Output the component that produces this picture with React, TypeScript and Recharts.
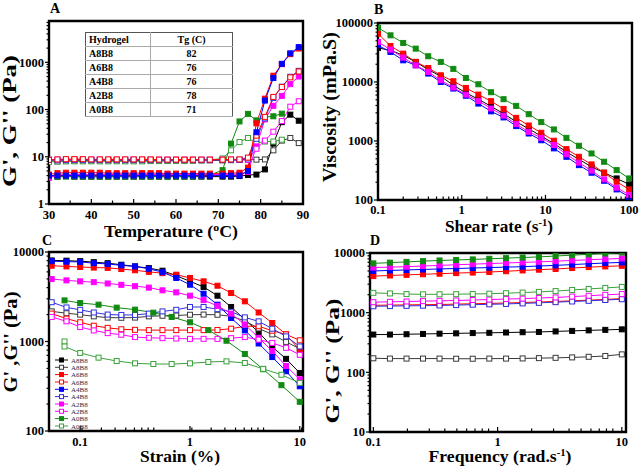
import React from 'react';
import { LineChart, Line, XAxis, YAxis, ReferenceArea } from 'recharts';

const FONT = '"Liberation Serif", "Times New Roman", serif';

// ---- A: temperature sweep (G' filled, G'' open)
const tempC = [30, 32, 34, 36, 38, 40, 42, 44, 46, 48, 50, 52, 54, 56, 58, 60, 62, 64, 66, 68, 71, 73, 75, 77, 79, 81, 83, 85, 87, 89];
const tA8B8G1 = [3.8, 3.8, 3.9, 3.8, 3.8, 3.8, 3.8, 3.8, 3.8, 3.8, 3.8, 3.8, 3.8, 3.8, 3.8, 3.8, 3.8, 3.8, 3.8, 3.8, 3.8, 3.8, 3.9, 4.1, 4.2, 5.4, 19, 54, 78, 58];
const tA8B8G2 = [8.3, 8.0, 8.1, 8.2, 8.3, 8.3, 8.3, 8.3, 8.3, 8.3, 8.3, 8.3, 8.3, 8.3, 8.3, 8.3, 8.3, 8.3, 8.4, 8.4, 8.4, 8.5, 8.6, 8.7, 8.7, 8.8, 13.7, 22, 25, 19.5];
const tA6B8G1 = [4.2, 4.5, 4.6, 4.6, 4.6, 4.6, 4.6, 4.5, 4.5, 4.5, 4.5, 4.5, 4.5, 4.5, 4.4, 4.4, 4.4, 4.4, 4.4, 4.4, 4.4, 4.5, 4.6, 5.9, 51, 170, 520, 915, 1490, 1960];
const tA6B8G2 = [8.6, 8.8, 8.9, 8.9, 8.9, 8.8, 8.8, 8.8, 8.8, 8.8, 8.8, 8.8, 8.8, 8.7, 8.7, 8.7, 8.7, 8.7, 8.7, 8.7, 8.7, 8.8, 8.8, 9.6, 28, 70, 185, 300, 480, 640];
const tA4B8G1 = [4.0, 4.0, 4.0, 4.0, 4.0, 4.0, 4.0, 4.0, 4.0, 4.0, 4.0, 4.0, 4.0, 4.0, 4.0, 4.0, 4.0, 4.0, 4.0, 4.0, 4.0, 4.0, 4.0, 5.0, 33, 155, 465, 930, 1550, 2100];
const tA4B8G2 = [8.6, 8.4, 8.5, 8.5, 8.5, 8.5, 8.5, 8.5, 8.5, 8.5, 8.5, 8.5, 8.5, 8.5, 8.5, 8.5, 8.5, 8.5, 8.5, 8.5, 8.5, 8.5, 8.6, 9.2, 24, 65, 175, 305, 495, 660];
const tA2B8G1 = [3.6, 4.1, 4.2, 4.2, 4.2, 4.2, 4.2, 4.2, 4.2, 4.2, 4.2, 4.2, 4.2, 4.2, 4.2, 4.2, 4.2, 4.2, 4.2, 4.2, 4.2, 4.2, 4.3, 4.8, 16.6, 62, 120, 195, 345, 500];
const tA2B8G2 = [8.7, 8.7, 8.7, 8.7, 8.7, 8.7, 8.7, 8.7, 8.7, 8.7, 8.7, 8.7, 8.7, 8.7, 8.7, 8.7, 8.7, 8.7, 8.7, 8.7, 8.7, 8.7, 8.6, 8.6, 14.8, 22, 34, 57, 115, 150];
const tA0B8G1 = [3.9, 3.8, 3.8, 3.8, 3.8, 3.8, 3.8, 3.8, 3.8, 3.8, 3.8, 3.8, 3.8, 3.8, 3.8, 3.8, 3.8, 3.8, 3.9, 4.1, 5.2, 19, 56, 81, 59, 69, 72, 82, null, null];
const tA0B8G2 = [7.8, 7.9, 8.0, 8.0, 8.0, 8.0, 8.0, 8.0, 8.0, 8.0, 8.0, 8.0, 8.1, 8.1, 8.1, 8.2, 8.2, 8.3, 8.4, 8.6, 9.2, 13.7, 20.5, 25, 19.5, 21, 21, 23, null, null];

const hydrogels = ['A8B8', 'A6B8', 'A4B8', 'A2B8', 'A0B8'];
const tgValues = [82, 76, 76, 78, 71];

// ---- B: viscosity vs shear rate
const shearRate = [0.1, 0.141, 0.2, 0.282, 0.398, 0.562, 0.794, 1.12, 1.58, 2.24, 3.16, 4.47, 6.31, 8.91, 12.6, 17.8, 25.1, 35.5, 50.1, 70.8, 100];
const vA8B8 = [37800, 34500, 28300, 21900, 16200, 12500, 8800, 6550, 5100, 3870, 2900, 2120, 1610, 1210, 905, 655, 487, 366, 290, 232, 184];
const vA6B8 = [66000, 40800, 30300, 21900, 17300, 13000, 10300, 7940, 6120, 4730, 3500, 2470, 1830, 1380, 1010, 728, 540, 401, 290, 204, 151];
const vA4B8 = [41900, 32300, 23300, 19200, 13900, 10000, 7740, 5850, 4310, 3180, 2510, 1790, 1340, 1030, 750, 540, 390, 290, 212, 151, 113];
const vA2B8 = [47600, 35400, 25900, 19200, 14800, 10700, 8060, 6120, 4780, 3560, 2700, 1930, 1430, 1130, 855, 595, 430, 315, 224, 162, 122];
const vA0B8 = [83400, 61800, 45900, 36800, 27300, 21900, 16700, 11700, 9150, 6710, 5110, 3940, 2850, 2090, 1570, 1130, 830, 615, 445, 321, 232];

// ---- C: strain sweep
const strain = [0.055, 0.075, 0.1, 0.133, 0.178, 0.237, 0.316, 0.422, 0.562, 0.75, 1, 1.33, 1.78, 2.37, 3.16, 4.22, 5.62, 7.5, 10];
const sA8B8G1 = [8050, 8000, 7900, 7700, 7500, 7210, 6900, 6610, 6180, 5440, 4700, 4070, 3250, 2430, 1760, 1270, 870, 640, 445];
const sA8B8G2 = [2170, 2070, 1995, 1910, 1850, 1840, 1850, 1910, 1940, 1950, 1990, 2000, 1990, 1910, 1700, 1400, 1200, 990, 830];
const sA6B8G1 = [7030, 6900, 6800, 6700, 6650, 6450, 6250, 6000, 5800, 5580, 5130, 4700, 4200, 3480, 2810, 2110, 1610, 1200, 800];
const sA6B8G2 = [2050, 1800, 1640, 1500, 1420, 1370, 1350, 1340, 1340, 1340, 1340, 1340, 1345, 1390, 1480, 1480, 1320, 1200, 1030];
const sA4B8G1 = [7900, 7800, 7750, 7500, 7350, 7100, 6900, 6500, 5950, 5130, 4310, 3420, 2580, 1830, 1330, 950, 670, 465, 316];
const sA4B8G2 = [2750, 2400, 2260, 2110, 2000, 1980, 1980, 2050, 2170, 2260, 2430, 2430, 2300, 2150, 1860, 1680, 1390, 1140, 880];
const sA2B8G1 = [4990, 4820, 4700, 4600, 4450, 4300, 4150, 4000, 3730, 3540, 3250, 2900, 2500, 2050, 1550, 1100, 783, 532, 378];
const sA2B8G2 = [1880, 1680, 1450, 1330, 1240, 1190, 1120, 1100, 1090, 1080, 1070, 1070, 1070, 1090, 1120, 1050, 965, 850, 710];
const strainA0 = [0.072, 0.1, 0.147, 0.215, 0.316, 0.464, 0.681, 1, 1.47, 2.15, 3.16, 4.64, 6.81, 10];
const sA0B8G1 = [2880, 2690, 2580, 2390, 2270, 2100, 1880, 1640, 1340, 1020, 725, 490, 325, 212];
const strainA0open = [0.072, 0.072, 0.1, 0.147, 0.215, 0.316, 0.464, 0.681, 1, 1.47, 2.15, 3.16, 4.64, 6.81, 10];
const sA0B8G2 = [1000, 880, 745, 660, 605, 570, 560, 560, 570, 590, 600, 575, 495, 425, 345];

// ---- D: frequency sweep
const freq = [0.1, 0.136, 0.185, 0.251, 0.341, 0.464, 0.631, 0.858, 1.17, 1.59, 2.15, 2.93, 3.98, 5.41, 7.36, 10];
const fA8B8G1 = [430, 430, 435, 440, 445, 450, 455, 460, 465, 470, 475, 485, 495, 505, 515, 525];
const fA8B8G2 = [172, 170, 170, 170, 170, 169, 169, 170, 170, 171, 173, 175, 178, 182, 188, 200];
const fA6B8G1 = [4100, 4200, 4300, 4400, 4500, 4600, 4700, 4800, 4950, 5100, 5250, 5400, 5600, 5800, 5950, 6100];
const fA6B8G2 = [1330, 1340, 1350, 1360, 1370, 1390, 1410, 1430, 1450, 1480, 1510, 1540, 1580, 1620, 1670, 1720];
const fA4B8G1 = [5000, 5100, 5200, 5300, 5400, 5500, 5600, 5700, 5800, 5900, 6050, 6200, 6400, 6600, 6800, 6950];
const fA4B8G2 = [1280, 1290, 1300, 1310, 1320, 1340, 1360, 1380, 1400, 1430, 1460, 1500, 1540, 1580, 1630, 1680];
const fA2B8G1 = [5700, 5800, 5900, 6050, 6200, 6350, 6500, 6650, 6800, 6950, 7100, 7300, 7500, 7700, 7900, 8100];
const fA2B8G2 = [1500, 1520, 1540, 1560, 1580, 1600, 1630, 1660, 1690, 1720, 1760, 1800, 1860, 1920, 1990, 2050];
const fA0B8G1 = [6700, 6900, 7100, 7300, 7500, 7650, 7800, 8000, 8200, 8400, 8600, 8900, 9200, 9500, 9800, 10200];
const fA0B8G2 = [2150, 2100, 2050, 2030, 2030, 2040, 2060, 2080, 2120, 2170, 2230, 2300, 2400, 2500, 2600, 2700];

const BLACK = '#000000';
const GREY = '#3a3a3a';
const RED = '#ff0000';
const BLUE = '#0000ff';
const BLUE_O = '#3030e0';
const MAG = '#ff00ff';
const GREEN = '#118a11';
const GREEN_O = '#3aa23a';

type Pt = { x: number; y: number | null };
type Series = { name: string; color: string; open: boolean; data: Pt[] };

const pts = (xs: number[], ys: (number | null)[]): Pt[] => xs.map((x, i) => ({ x, y: ys[i] }));

const seriesA: Series[] = [
  { name: 'A8B8', color: BLACK, open: false, data: pts(tempC, tA8B8G1) },
  { name: 'A8B8', color: GREY, open: true, data: pts(tempC, tA8B8G2) },
  { name: 'A0B8', color: GREEN, open: false, data: pts(tempC, tA0B8G1) },
  { name: 'A0B8', color: GREEN_O, open: true, data: pts(tempC, tA0B8G2) },
  { name: 'A2B8', color: MAG, open: false, data: pts(tempC, tA2B8G1) },
  { name: 'A2B8', color: MAG, open: true, data: pts(tempC, tA2B8G2) },
  { name: 'A4B8', color: BLUE_O, open: true, data: pts(tempC, tA4B8G2) },
  { name: 'A6B8', color: RED, open: true, data: pts(tempC, tA6B8G2) },
  { name: 'A6B8', color: RED, open: false, data: pts(tempC, tA6B8G1) },
  { name: 'A4B8', color: BLUE, open: false, data: pts(tempC, tA4B8G1) },
];

const seriesB: Series[] = [
  { name: 'A8B8', color: BLACK, open: false, data: pts(shearRate, vA8B8) },
  { name: 'A6B8', color: RED, open: false, data: pts(shearRate, vA6B8) },
  { name: 'A4B8', color: BLUE, open: false, data: pts(shearRate, vA4B8) },
  { name: 'A2B8', color: MAG, open: false, data: pts(shearRate, vA2B8) },
  { name: 'A0B8', color: GREEN, open: false, data: pts(shearRate, vA0B8) },
];

const seriesC: Series[] = [
  { name: 'A8B8', color: BLACK, open: false, data: pts(strain, sA8B8G1) },
  { name: 'A8B8', color: GREY, open: true, data: pts(strain, sA8B8G2) },
  { name: 'A6B8', color: RED, open: false, data: pts(strain, sA6B8G1) },
  { name: 'A6B8', color: RED, open: true, data: pts(strain, sA6B8G2) },
  { name: 'A4B8', color: BLUE, open: false, data: pts(strain, sA4B8G1) },
  { name: 'A4B8', color: BLUE_O, open: true, data: pts(strain, sA4B8G2) },
  { name: 'A2B8', color: MAG, open: false, data: pts(strain, sA2B8G1) },
  { name: 'A2B8', color: MAG, open: true, data: pts(strain, sA2B8G2) },
  { name: 'A0B8', color: GREEN, open: false, data: pts(strainA0, sA0B8G1) },
  { name: 'A0B8', color: GREEN_O, open: true, data: pts(strainA0open, sA0B8G2) },
];

const seriesD: Series[] = [
  { name: 'A8B8', color: BLACK, open: false, data: pts(freq, fA8B8G1) },
  { name: 'A8B8', color: GREY, open: true, data: pts(freq, fA8B8G2) },
  { name: 'A6B8', color: RED, open: true, data: pts(freq, fA6B8G2) },
  { name: 'A4B8', color: BLUE_O, open: true, data: pts(freq, fA4B8G2) },
  { name: 'A2B8', color: MAG, open: true, data: pts(freq, fA2B8G2) },
  { name: 'A0B8', color: GREEN_O, open: true, data: pts(freq, fA0B8G2) },
  { name: 'A6B8', color: RED, open: false, data: pts(freq, fA6B8G1) },
  { name: 'A4B8', color: BLUE, open: false, data: pts(freq, fA4B8G1) },
  { name: 'A2B8', color: MAG, open: false, data: pts(freq, fA2B8G1) },
  { name: 'A0B8', color: GREEN, open: false, data: pts(freq, fA0B8G1) },
];

// minor ticks 2..9 for each decade inside the domain
const logMinors = (lo: number, hi: number) => {
  const out: number[] = [];
  for (let d = lo; d < hi * 10; d *= 10) {
    for (let k = 2; k <= 9; k++) {
      const v = +(d * k).toPrecision(3);
      if (v > lo && v < hi) out.push(v);
    }
  }
  return out;
};

const square = (color: string, open: boolean, size = 5) => (p: any) => {
  const { cx, cy, index, value } = p;
  if (cx == null || cy == null || value == null) return <g key={index} />;
  return (
    <rect key={index} x={cx - size / 2} y={cy - size / 2} width={size} height={size}
      fill={open ? '#fff' : color} stroke={color} strokeWidth={1} />
  );
};

const yTick = (majors: number[]) => (p: any) => {
  const v = p.payload.value;
  const big = majors.includes(v);
  return (
    <g>
      <line x1={p.x} x2={p.x - (big ? 4 : 2.5)} y1={p.y} y2={p.y} stroke="#000" strokeWidth={1.2} />
      {big && (
        <text x={p.x - 5} y={p.y} dy={4.3} textAnchor="end" fontFamily={FONT} fontWeight="bold" fontSize={12.5} fill="#000">
          {String(v)}
        </text>
      )}
    </g>
  );
};

const xTick = (majors: number[], dy: number) => (p: any) => {
  const v = p.payload.value;
  const big = majors.includes(v);
  return (
    <g>
      <line x1={p.x} x2={p.x} y1={p.y} y2={p.y - (big ? 5 : 3.5)} stroke="#000" strokeWidth={1.2} />
      {big && (
        <text x={p.x} y={p.y + dy} textAnchor="middle" fontFamily={FONT} fontWeight="bold" fontSize={12.5} fill="#000">
          {String(v)}
        </text>
      )}
    </g>
  );
};

type PanelProps = {
  box: { left: number; top: number; w: number; h: number };
  xDomain: [number, number];
  yDomain: [number, number];
  xLog: boolean;
  xMajor: number[];
  xMinor: number[];
  yMajor: number[];
  xDy: number;
  series: Series[];
};

function Panel({ box, xDomain, yDomain, xLog, xMajor, xMinor, yMajor, xDy, series }: PanelProps) {
  const YW = 50, MT = 10, MR = 12, XH = 24;
  const yTicks = [...yMajor, ...logMinors(yDomain[0], yDomain[1])];
  return (
    <div style={{ position: 'absolute', left: box.left - YW, top: box.top - MT }}>
      <LineChart width={box.w + YW + MR} height={box.h + MT + XH} margin={{ top: MT, right: MR, left: 0, bottom: 0 }}>
        <XAxis dataKey="x" type="number" scale={xLog ? 'log' : 'linear'} domain={xDomain} allowDataOverflow
          ticks={[...xMajor, ...xMinor]} interval={0} axisLine={false} tickLine={false} tickSize={0} tickMargin={0}
          height={XH} tick={xTick(xMajor, xDy)} />
        <YAxis type="number" scale="log" domain={yDomain} allowDataOverflow ticks={yTicks} interval={0}
          axisLine={false} tickLine={false} tickSize={0} tickMargin={0} width={YW} tick={yTick(yMajor)} />
        {series.map((s, i) => (
          <Line key={i} data={s.data} dataKey="y" type="linear" stroke={s.color} strokeWidth={1}
            dot={square(s.color, s.open)} activeDot={false} isAnimationActive={false} />
        ))}
        <ReferenceArea x1={xDomain[0]} x2={xDomain[1]} y1={yDomain[0]} y2={yDomain[1]} fill="none" fillOpacity={0}
          stroke="#000" strokeWidth={2.4} ifOverflow="visible" />
      </LineChart>
    </div>
  );
}

const txt = { fontFamily: FONT, fontWeight: 'bold' as const, fill: '#000' };

function YTitle({ x, y, len, children }: { x: number; y: number; len: number; children: React.ReactNode }) {
  return (
    <text x={x} y={y} transform={`rotate(-90 ${x} ${y})`} textAnchor="middle" fontSize={18} textLength={len}
      lengthAdjust="spacingAndGlyphs" {...txt}>
      {children}
    </text>
  );
}

function XTitle({ x, y, len, children }: { x: number; y: number; len: number; children: React.ReactNode }) {
  return (
    <text x={x} y={y} textAnchor="middle" fontSize={16.5} textLength={len} lengthAdjust="spacingAndGlyphs" {...txt}>
      {children}
    </text>
  );
}

const legendRows = [360, 367.3, 374.6, 382, 389.3, 396.6, 404, 411.3, 418.6, 426];

export default function App() {
  return (
    <div style={{ position: 'absolute', left: 0, top: 0, width: 640, height: 467, background: '#fff', overflow: 'hidden' }}>
      <Panel box={{ left: 49, top: 21, w: 254, h: 183 }} xDomain={[30, 90]} yDomain={[1, 7500]} xLog={false}
        xMajor={[30, 40, 50, 60, 70, 80, 90]} xMinor={[35, 45, 55, 65, 75, 85]} yMajor={[1, 10, 100, 1000]} xDy={14.5}
        series={seriesA} />
      <Panel box={{ left: 378, top: 23, w: 254, h: 177 }} xDomain={[0.1, 108]} yDomain={[100, 100000]} xLog
        xMajor={[0.1, 1, 10, 100]} xMinor={logMinors(0.1, 108)} yMajor={[100, 1000, 10000, 100000]} xDy={13.5}
        series={seriesB} />
      <Panel box={{ left: 49, top: 252, w: 254, h: 179 }} xDomain={[0.052, 10.7]} yDomain={[100, 10000]} xLog
        xMajor={[0.1, 1, 10]} xMinor={logMinors(0.052, 10.7).filter((v) => v >= 0.06)} yMajor={[100, 1000, 10000]} xDy={15.3}
        series={seriesC} />
      <Panel box={{ left: 370, top: 253, w: 256, h: 179 }} xDomain={[0.094, 10.8]} yDomain={[10, 10000]} xLog
        xMajor={[0.1, 1, 10]} xMinor={logMinors(0.094, 10.8).filter((v) => v > 0.1)} yMajor={[10, 100, 1000, 10000]} xDy={14}
        series={seriesD} />

      <table style={{ position: 'absolute', left: 85, top: 32, width: 148, height: 83, borderCollapse: 'collapse',
        fontFamily: FONT, fontWeight: 'bold', fontSize: 10, background: '#fff', border: '1px solid #555' }}>
        <tbody>
          <tr>
            <td style={{ height: 13, padding: '0 3px', borderBottom: '1px solid #aaa', lineHeight: '12px', width: 58 }}>Hydrogel</td>
            <td style={{ padding: 0, borderBottom: '1px solid #aaa', borderLeft: '1px solid #aaa', textAlign: 'center', lineHeight: '12px' }}>Tg (C)</td>
          </tr>
          {hydrogels.map((h, i) => (
            <tr key={h}>
              <td style={{ height: 13, padding: '0 3px', borderBottom: '1px solid #aaa', lineHeight: '12px' }}>{h}</td>
              <td style={{ padding: 0, borderBottom: '1px solid #aaa', borderLeft: '1px solid #aaa', textAlign: 'center', lineHeight: '12px' }}>{tgValues[i]}</td>
            </tr>
          ))}
        </tbody>
      </table>

      <svg width={640} height={467} style={{ position: 'absolute', left: 0, top: 0, pointerEvents: 'none' }}>
        <text x={50} y={13} fontSize={14} {...txt}>A</text>
        <text x={374} y={14} fontSize={14} {...txt}>B</text>
        <text x={42} y={245} fontSize={14} {...txt}>C</text>
        <text x={370} y={245} fontSize={14} {...txt}>D</text>

        <YTitle x={16} y={121} len={132}>G', G'' (Pa)</YTitle>
        <YTitle x={336} y={107} len={150}>Viscosity (mPa.S)</YTitle>
        <YTitle x={17} y={342} len={101}>G' ,G'' (Pa)</YTitle>
        <YTitle x={339} y={361} len={125}>G', G'' (Pa)</YTitle>

        <XTitle x={171} y={236.5} len={134}>
          Temperature (<tspan fontSize={11} dy={-6}>o</tspan><tspan dy={6}>C)</tspan>
        </XTitle>
        <XTitle x={499} y={231.5} len={108}>
          Shear rate (s<tspan fontSize={10} dy={-6}>-1</tspan><tspan dy={6}>)</tspan>
        </XTitle>
        <XTitle x={180} y={461.5} len={80}>Strain (%)</XTitle>
        <XTitle x={500} y={461.5} len={143}>
          Frequency (rad.s<tspan fontSize={10} dy={-6}>-1</tspan><tspan dy={6}>)</tspan>
        </XTitle>

        {seriesC.map((s, i) => (
          <g key={i}>
            <line x1={55} x2={68} y1={legendRows[i]} y2={legendRows[i]} stroke={s.color} strokeWidth={1} />
            <rect x={59.5} y={legendRows[i] - 2} width={4} height={4} fill={s.open ? '#fff' : s.color} stroke={s.color} strokeWidth={1} />
            <text x={71} y={legendRows[i] + 2.5} fontFamily={FONT} fontSize={7} fill="#2a2a4a">{s.name}</text>
          </g>
        ))}
      </svg>
    </div>
  );
}
